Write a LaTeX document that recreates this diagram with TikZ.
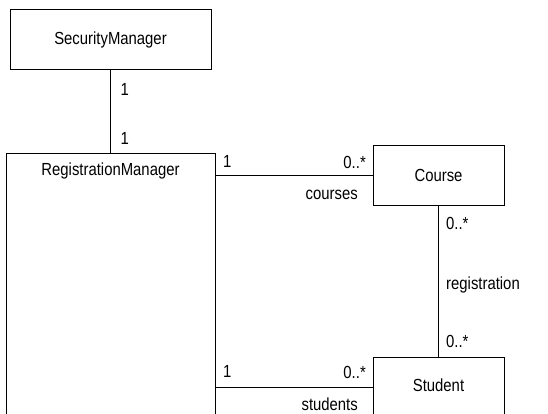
\documentclass[tikz,border=0pt]{standalone}
\usepackage{fontspec}
\setmainfont{Liberation Sans}[FakeStretch=0.85]
\begin{document}
\begin{tikzpicture}[x=1pt,y=-1pt,
  cls/.style={draw,line width=1pt,rectangle,inner sep=0pt,font=\fontsize{17.5}{20}\selectfont},
  lbl/.style={inner sep=0pt,font=\fontsize{17.5}{20}\selectfont},
  assoc/.style={draw,line width=1pt}]
\useasboundingbox (0,0) rectangle (548,414);
\clip (0,0) rectangle (548,414);
\node[cls,minimum width=201pt,minimum height=60pt] (sm) at (110.5,40) {SecurityManager};
\node[cls,minimum width=209pt,minimum height=300pt,anchor=north] (rm) at (110.5,153) {};
\node[lbl] (rmt) at (110.5,171) {RegistrationManager};
\node[cls,minimum width=131pt,minimum height=59pt] (course) at (438.5,175.5) {Course};
\node[cls,minimum width=131pt,minimum height=60pt,anchor=north] (student) at (438.5,356.5) {};
\node[lbl] (stt) at (438.5,385) {Student};
% associations
\draw[assoc] (sm.south) -- (sm.south |- rm.north);
\draw[assoc] (course.west) -- (course.west -| rm.east);
\draw[assoc] (student.west) -- (student.west -| rm.east);
\draw[assoc] (course.south) -- (student.north);
% labels
\node[lbl,anchor=west] (a1) at (120.5,89) {1};
\node[lbl,anchor=west] (a2) at (120.5,138) {1};
\node[lbl,anchor=west] (b1) at (223,161) {1};
\node[lbl,anchor=east] (b2) at (366,162) {0..*};
\node[lbl,anchor=east] (b3) at (358,195) {courses};
\node[lbl,anchor=west] (c1) at (223,371) {1};
\node[lbl,anchor=east] (c2) at (366,372) {0..*};
\node[lbl,anchor=east] (c3) at (358,404) {students};
\node[lbl,anchor=west] (d1) at (446,223) {0..*};
\node[lbl,anchor=west] (d2) at (446,285) {registration};
\node[lbl,anchor=west] (d3) at (446,341) {0..*};
\end{tikzpicture}
\end{document}
